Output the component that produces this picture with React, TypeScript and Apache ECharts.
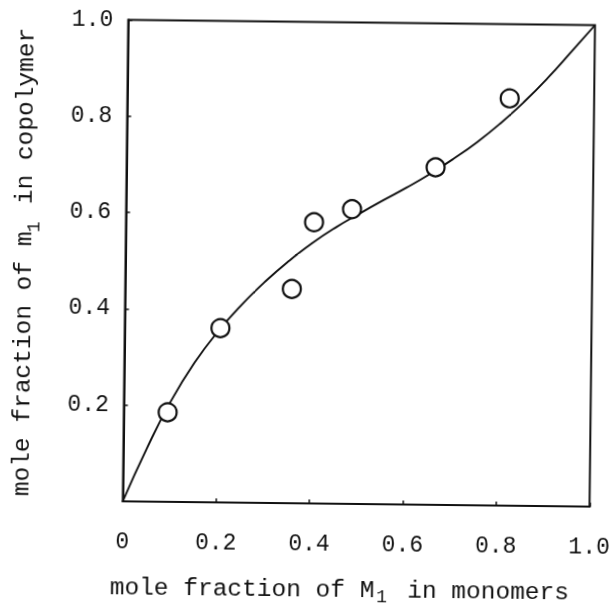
import React, { useEffect, useRef } from "react";
import * as echarts from "echarts";

// Observed data points (mole fraction of M1 in monomers, mole fraction of m1 in copolymer)
const pointX = [0.094, 0.205, 0.357, 0.403, 0.484, 0.662, 0.819];
const pointY = [0.186, 0.362, 0.445, 0.584, 0.612, 0.701, 0.846];

// Composition curve, every 0.05
const curveX = [0, 0.05, 0.1, 0.15, 0.2, 0.25, 0.3, 0.35, 0.4, 0.45, 0.5, 0.55, 0.6, 0.65, 0.7, 0.75, 0.8, 0.85, 0.9, 0.95, 1.0];
const curveY = [0, 0.11, 0.208, 0.289, 0.355, 0.411, 0.46, 0.503, 0.541, 0.574, 0.603, 0.631, 0.658, 0.687, 0.719, 0.754, 0.794, 0.839, 0.889, 0.944, 1.0];

const xTicks = [0, 0.2, 0.4, 0.6, 0.8, 1.0];
const yTicks = [0.2, 0.4, 0.6, 0.8, 1.0];

const xTitleMain = "mole fraction of M";
const xTitleSub = "1";
const xTitleRest = "in monomers";
const yTitleMain = "mole fraction of m";
const yTitleSub = "1";
const yTitleRest = "in copolymer";

const FONT = '"Liberation Mono", "DejaVu Sans Mono", monospace';
const INK = "#111";

export default function App() {
  const ref = useRef<HTMLDivElement>(null);

  useEffect(() => {
    if (!ref.current) return;
    const chart = echarts.init(ref.current, undefined, { renderer: "svg" });
    const fmtX = (v: number) => (v === 0 ? "0" : xTicks.includes(Math.round(v * 10) / 10) ? v.toFixed(1) : "");
    const fmtY = (v: number) => (v === 0 ? "" : yTicks.includes(Math.round(v * 10) / 10) ? v.toFixed(1) : "");
    const titleFont = `24.5px ${FONT}`;
    const subFont = `18px ${FONT}`;
    chart.setOption({
      animation: false,
      backgroundColor: "#fff",
      grid: {
        left: 125.5,
        right: 21,
        top: 22.5,
        bottom: 104,
        show: true,
        borderColor: INK,
        borderWidth: 2,
        backgroundColor: "transparent",
      },
      xAxis: {
        type: "value",
        min: 0,
        max: 1,
        interval: 0.2,
        axisLine: { show: true, lineStyle: { color: INK, width: 2 } },
        axisTick: { show: true, inside: true, length: 4, lineStyle: { color: INK, width: 1.5 } },
        splitLine: { show: false },
        axisLabel: {
          margin: 29,
          formatter: fmtX,
          fontFamily: FONT,
          fontSize: 23,
          color: INK,
        },
      },
      yAxis: {
        type: "value",
        min: 0,
        max: 1,
        interval: 0.2,
        axisLine: { show: true, lineStyle: { color: INK, width: 2 } },
        axisTick: { show: true, inside: true, length: 4, lineStyle: { color: INK, width: 1.5 } },
        splitLine: { show: false },
        axisLabel: {
          margin: 15,
          formatter: fmtY,
          fontFamily: FONT,
          fontSize: 23,
          color: INK,
        },
      },
      series: [
        {
          type: "line",
          data: curveX.map((x, i) => [x, curveY[i]]),
          smooth: true,
          showSymbol: false,
          lineStyle: { color: INK, width: 1.9 },
          z: 2,
        },
        {
          type: "scatter",
          data: pointX.map((x, i) => [x, pointY[i]]),
          symbol: "circle",
          symbolSize: 18,
          itemStyle: { color: "#fff", borderColor: INK, borderWidth: 2.2, opacity: 1 },
          z: 3,
        },
      ],
      graphic: [
        { type: "text", x: 113.5, y: 590, style: { text: xTitleMain, font: titleFont, fill: INK, align: "left", verticalAlign: "middle" } },
        { type: "text", x: 380, y: 597, style: { text: xTitleSub, font: subFont, fill: INK, align: "left", verticalAlign: "middle" } },
        { type: "text", x: 411, y: 590, style: { text: xTitleRest, font: titleFont, fill: INK, align: "left", verticalAlign: "middle" } },
        { type: "text", x: 24, y: 500, rotation: Math.PI / 2, style: { text: yTitleMain, font: titleFont, fill: INK, align: "left", verticalAlign: "middle" } },
        { type: "text", x: 34, y: 236, rotation: Math.PI / 2, style: { text: yTitleSub, font: subFont, fill: INK, align: "left", verticalAlign: "middle" } },
        { type: "text", x: 24, y: 208, rotation: Math.PI / 2, style: { text: yTitleRest, font: titleFont, fill: INK, align: "left", verticalAlign: "middle" } },
      ],
    });
    return () => chart.dispose();
  }, []);

  return (
    <div
      ref={ref}
      style={{
        position: "fixed",
        left: 0,
        top: 0,
        width: 616,
        height: 608,
        background: "#fff",
        transform: "rotate(0.65deg)",
        transformOrigin: "360px 263px",
      }}
    />
  );
}
